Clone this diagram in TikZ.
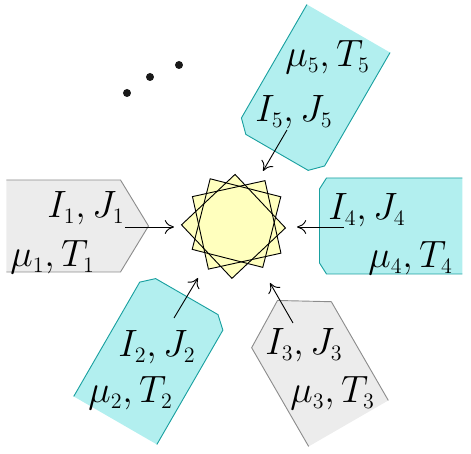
\documentclass[tikz,border=0pt]{standalone}
\usetikzlibrary{arrows.meta,calc}
\DeclareMathSizes{20.74}{20.74}{12}{10}
\definecolor{cyanfill}{RGB}{178,239,239}
\definecolor{cyanline}{RGB}{25,160,160}
\definecolor{grayfill}{RGB}{236,236,236}
\definecolor{grayline}{RGB}{140,140,140}
\definecolor{starfill}{RGB}{255,255,190}
\newcommand\graysig[2]{%
  \begin{scope}[shift={(234.5,226)}, rotate=#1]
    \fill[grayfill] (-228,{-46+#2}) -- (-114,{-46+#2}) -- (-86,{#2}) -- (-114,{46+#2}) -- (-228,{46+#2}) -- cycle;
    \draw[grayedge] (-228,{-46+#2}) -- (-114,{-46+#2}) -- (-86,{#2}) -- (-114,{46+#2}) -- (-228,{46+#2});
  \end{scope}}
\newcommand\cyanchamf[4]{%
  \begin{scope}[shift={(234.5,226)}, rotate=#1]
    \fill[cyanfill] (-228,{-48+#2}) -- ({-85-#3},{-48+#2}) -- (-85,{-48+#4+#2}) -- (-85,{48-#4+#2}) -- ({-85-#3},{48+#2}) -- (-228,{48+#2}) -- cycle;
    \draw[cyanedge] (-228,{-48+#2}) -- ({-85-#3},{-48+#2}) -- (-85,{-48+#4+#2}) -- (-85,{48-#4+#2}) -- ({-85-#3},{48+#2}) -- (-228,{48+#2});
  \end{scope}}
\begin{document}
\begin{tikzpicture}[x=0.545pt,y=-0.545pt,
  grayedge/.style={draw=grayline, line width=0.5pt},
  cyanedge/.style={draw=cyanline, line width=0.5pt},
  sq/.style={draw=black, line width=0.5pt},
  lab/.style={inner sep=0pt, anchor=base west, font=\fontsize{20.74}{25}\selectfont},
  arr/.style={-{To[length=5pt,width=7.5pt]}, line width=0.5pt},
  dot/.style={fill=black!90}]
\useasboundingbox (0,0) rectangle (471,454);

% side shapes
\graysig{0}{0}
\cyanchamf{180}{0}{7}{11}
\cyanchamf{-120}{0}{12}{12}
\cyanchamf{60}{-6}{11}{12}
\graysig{120}{0}

% star of three squares
\coordinate (cA) at (233.5,226.4);
\coordinate (cB) at (236.5,223.1);
\coordinate (cC) at (236.7,224.9);
\foreach \c/\a/\r in {A/1.7/52,B/-30.7/51.5,C/-57.4/52.5}{
  \fill[starfill] ($(c\c)+(\a:\r)$) -- ($(c\c)+(\a+90:\r)$) -- ($(c\c)+(\a+180:\r)$) -- ($(c\c)+(\a+270:\r)$) -- cycle;
}
\foreach \c/\a/\r in {A/1.7/52,B/-30.7/51.5,C/-57.4/52.5}{
  \draw[sq] ($(c\c)+(\a:\r)$) -- ($(c\c)+(\a+90:\r)$) -- ($(c\c)+(\a+180:\r)$) -- ($(c\c)+(\a+270:\r)$) -- cycle;
}

% labels
\node[lab] (ij1) at (47,218) {$I_1,J_1$};
\node[lab] (mt1) at (10,267) {$\mu_1,T_1$};
\node[lab] (ij4) at (328,220) {$I_4,J_4$};
\node[lab] (mt4) at (368,268) {$\mu_4,T_4$};
\node[lab] (mt5) at (285,67) {$\mu_5,T_5$};
\node[lab] (ij5) at (255,122) {$I_5,J_5$};
\node[lab] (ij2) at (118,357) {$I_2,J_2$};
\node[lab] (mt2) at (88,403) {$\mu_2,T_2$};
\node[lab] (ij3) at (265,355) {$I_3,J_3$};
\node[lab] (mt3) at (290,403) {$\mu_3,T_3$};

% arrows
\coordinate (s1) at (125,227); \coordinate (e1) at (174,227);
\coordinate (s4) at (344,227); \coordinate (e4) at (297,227);
\coordinate (s5) at (287,130); \coordinate (e5) at (263,171);
\coordinate (s2) at (174,318); \coordinate (e2) at (198,278);
\coordinate (s3) at (293,323); \coordinate (e3) at (270,283);
\foreach \i in {1,2,3,4,5}{ \draw[arr] (s\i) -- (e\i); }

% dots
\fill[dot] (127,93) circle (4);
\fill[dot] (150,77) circle (4);
\fill[dot] (179,65) circle (4);
\end{tikzpicture}
\end{document}
